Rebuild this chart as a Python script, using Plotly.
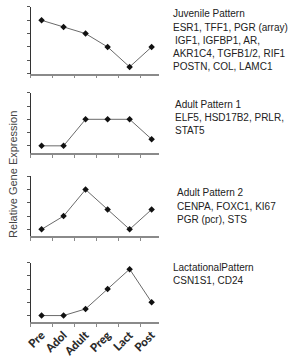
import plotly.graph_objects as go

stages = ["Pre", "Adol", "Adult", "Preg", "Lact", "Post"]
juvenile = [4, 3.5, 3, 2, 0.5, 2]
adult1 = [1, 1, 3, 3, 3, 1.5]
adult2 = [1, 2, 4, 2.5, 1, 2.5]
lactational = [1, 1, 1.5, 3, 4.5, 2]

series = [juvenile, adult1, adult2, lactational]
labels = [
    ["Juvenile Pattern", "ESR1, TFF1, PGR (array)", " IGF1, IGFBP1, AR,", "AKR1C4, TGFB1/2, RIF1", "POSTN, COL, LAMC1"],
    ["Adult Pattern 1", "ELF5, HSD17B2, PRLR,", "STAT5"],
    ["Adult Pattern 2", "CENPA, FOXC1, KI67", "PGR (pcr), STS"],
    ["LactationalPattern", "CSN1S1, CD24"],
]
y_floor = [0, 0.45, 0.5, 0.5]

W, H = 294, 358
dom_px = [(7, 74), (93.3, 154), (177.3, 237.3), (264, 324)]
text_px = [(169, 14), (171, 105), (173, 194), (169, 269)]
x0p, x1p = 26, 157

fig = go.Figure()
for i, vals in enumerate(series):
    xa = "x" if i == 0 else f"x{i+1}"
    ya = "y" if i == 0 else f"y{i+1}"
    fig.add_trace(go.Scatter(
        x=stages, y=vals, xaxis=xa, yaxis=ya, mode="lines+markers",
        line=dict(color="#6a6a6a", width=1),
        marker=dict(symbol="diamond", size=5, color="#111111"),
        showlegend=False, cliponaxis=False,
    ))
    top, bot = dom_px[i]
    xkey = "xaxis" if i == 0 else f"xaxis{i+1}"
    ykey = "yaxis" if i == 0 else f"yaxis{i+1}"
    fig.layout[xkey] = dict(
        domain=[x0p / W, x1p / W], anchor=ya, type="category",
        categoryorder="array", categoryarray=stages,
        range=[-0.5, 5.35], showline=True, linecolor="#8a8a8a", linewidth=1.5,
        ticks="outside", tickson="boundaries", ticklen=3, tickcolor="#8a8a8a",
        showgrid=False, zeroline=False,
        showticklabels=(i == 3), tickangle=-45,
        tickfont=dict(family="Lato", size=11.5, color="#2a2a2a", weight=900),
    )
    fig.layout[ykey] = dict(
        domain=[1 - bot / H, 1 - top / H], anchor=xa,
        range=[y_floor[i], 5], showline=True, linecolor="#333333", linewidth=1,
        ticks="outside", ticklen=3, tickcolor="#555555",
        tickvals=[0, 1, 2, 3, 4, 5], showticklabels=False,
        showgrid=False, zeroline=False,
    )
    ext_bot = -0.22 if i == 0 else 0.0
    fig.add_shape(type="line", xref="paper", yref=ya,
                  x0=x0p / W, x1=x0p / W, y0=ext_bot, y1=y_floor[i],
                  line=dict(color="#333333", width=1))
    if i > 0:
        fig.add_shape(type="line", xref="paper", yref=ya,
                      x0=(x0p - 3) / W, x1=x0p / W, y0=0, y1=0,
                      line=dict(color="#555555", width=1))
    tx, ty = text_px[i]
    for j, line in enumerate(labels[i]):
        fig.add_annotation(
            xref="paper", yref="paper", x=(tx + (1.5 if line.startswith(" ") else 0)) / W,
            y=1 - (ty + 13.2 * j) / H, text=line.strip(),
            xanchor="left", yanchor="middle", showarrow=False,
            font=dict(family="Liberation Sans", size=10, color="#222222"),
        )

fig.add_annotation(
    xref="paper", yref="paper", x=8 / W, y=1 - 175 / H, text="Relative Gene Expression",
    textangle=-90, showarrow=False, xanchor="center", yanchor="middle",
    font=dict(family="Liberation Sans", size=11, color="#444444"),
)

fig.update_layout(
    width=W, height=H, margin=dict(l=0, r=0, t=0, b=0),
    paper_bgcolor="white", plot_bgcolor="white",
)
fig.write_html("out.html")
